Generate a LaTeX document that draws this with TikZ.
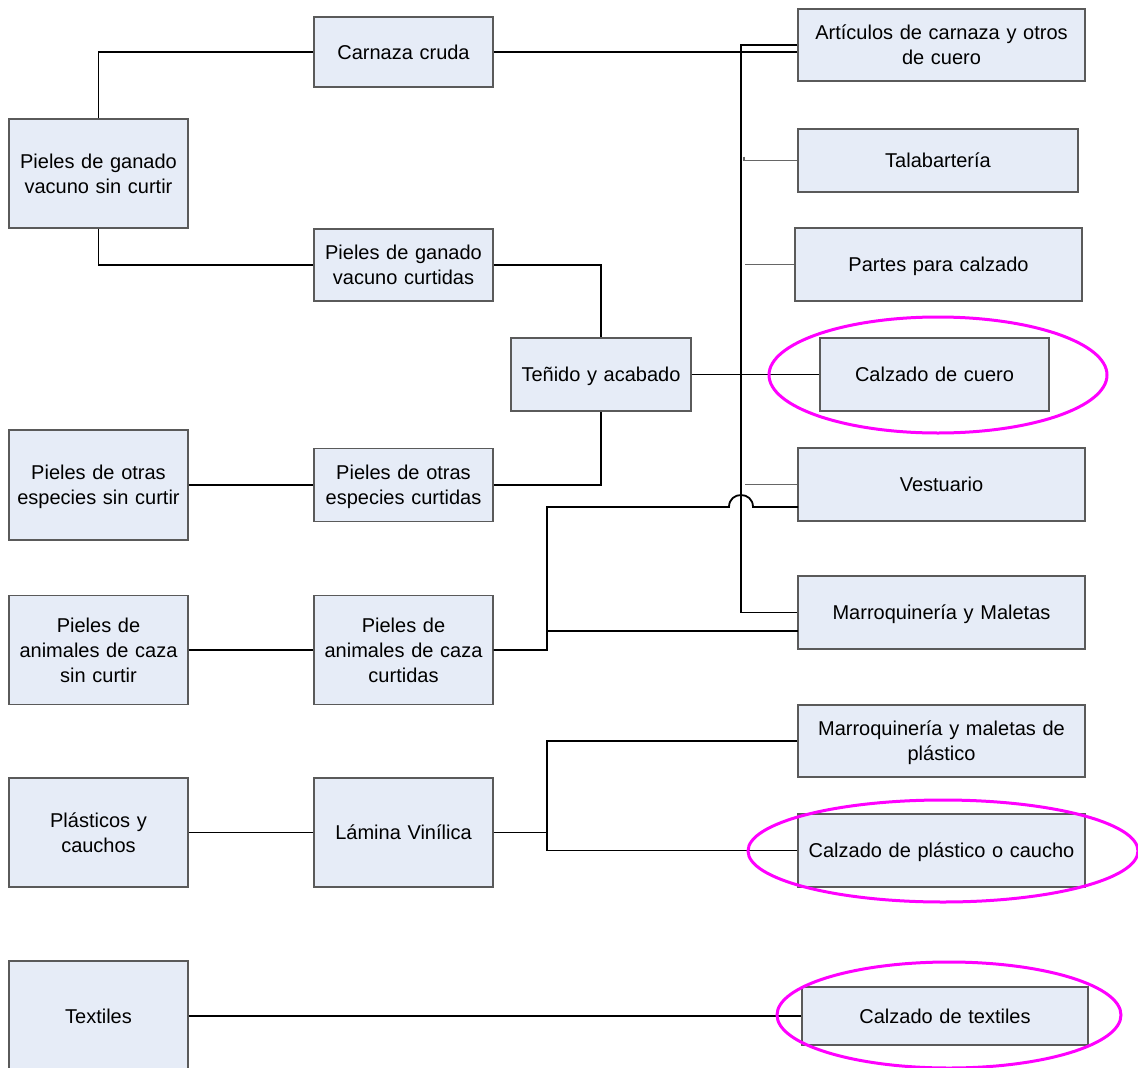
\documentclass[tikz,border=0pt]{standalone}
\usepackage{fontspec}
\setmainfont{Liberation Sans}
\usetikzlibrary{shapes.geometric,calc}
\definecolor{boxfill}{HTML}{E6ECF7}
\definecolor{boxline}{HTML}{5A5A5A}
\definecolor{ring}{HTML}{FF00FF}
\tikzset{
  box/.style={draw=boxline, line width=1.1pt, fill=boxfill, inner sep=0pt, align=center,
    font=\fontsize{20}{25}\selectfont},
  conn/.style={draw=black, line width=1.8pt},
  thinconn/.style={draw=black!60, line width=1.2pt},
  ring/.style={draw=ring, line width=3pt, ellipse, inner sep=0pt}
}
\newcommand\nd[1]{\raisebox{0pt}[\height][0pt]{#1}}
\newcommand\bx[6]{\node[box, minimum width=#4pt, minimum height=#5pt, text width=#4pt-14pt] (#1) at (#2,#3) {#6};}
\begin{document}
\begin{tikzpicture}[x=1pt,y=-1pt]
\useasboundingbox (0,0) rectangle (1138,1068);
% left column
\bx{vsc}{98.5}{173.5}{179}{109}{Pieles de ganado\\vacuno sin curtir}
\bx{osc}{98.5}{485}{179}{110}{Pieles de otras\\\nd{especies sin curtir}}
\bx{acs}{98.5}{650}{179}{109}{Pieles de\\animales de caza\\sin curtir}
\bx{pc}{98.5}{832.5}{179}{109}{Plásticos y\\cauchos}
\bx{tex}{98.5}{1016}{179}{110}{Textiles}
% middle column
\bx{cc}{403.5}{52}{179}{70}{Carnaza cruda}
\bx{vc}{403.5}{265}{179}{72}{Pieles de ganado\\vacuno curtidas}
\bx{oc}{403.5}{485}{179}{73}{Pieles de otras\\\nd{especies curtidas}}
\bx{ac}{403.5}{650}{179}{109}{Pieles de\\animales de caza\\curtidas}
\bx{la}{403.5}{832.5}{179}{109}{Lámina Vinílica}
\bx{ta}{601}{374.5}{180}{73}{\nd{Teñido y acabado}}
% right column
\bx{art}{941.5}{45}{287}{72}{Artículos de carnaza y otros\\de cuero}
\bx{tal}{938}{160.5}{280}{63}{Talabartería}
\bx{ppc}{938.5}{264.5}{287}{73}{\nd{Partes para calzado}}
\bx{cdc}{934.5}{374.5}{229}{73}{Calzado de cuero}
\bx{vest}{941.5}{484.5}{287}{73}{Vestuario}
\bx{mm}{941.5}{612.5}{287}{73}{\nd{Marroquinería y Maletas}}
\bx{mmp}{941.5}{741}{287}{72}{Marroquinería y maletas de\\\nd{plástico}}
\bx{cpc}{941.5}{850.5}{287}{73}{\nd{Calzado de plástico o caucho}}
\bx{ct}{945}{1016}{286}{58}{Calzado de textiles}
% helper coordinates
\coordinate (tk) at (741,0);
\coordinate (tg) at (745,0);
\coordinate (jx) at (547,0);
\coordinate (vin) at (798,507);
\coordinate (min) at (798,631);
\coordinate (ja) at (729,507);
\coordinate (jb) at (753,507);
% connectors
\draw[conn] (vsc.north) |- (cc.west);
\draw[conn] (vsc.south) |- (vc.west);
\draw[conn] (cc.east) -- (art.west |- cc.east);
\draw[conn] (art.west) -- (art.west -| tk) -- (mm.west -| tk) -- (mm.west);
\draw[conn] (vc.east) -| (ta.north);
\draw[conn] (oc.east) -| (ta.south);
\draw[conn] (osc.east) -- (oc.west);
\draw[conn] (acs.east) -- (ac.west);
\draw[conn] (ta.east) -- (cdc.west);
\draw[thinconn] ($(tal.west -| tk)+(3,-4)$) -- ($(tal.west -| tk)+(3,0)$) -- (tal.west);
\draw[thinconn] (ppc.west -| tg) -- (ppc.west);
\draw[thinconn] (vest.west -| tg) -- (vest.west);
\draw[conn] (ac.east) -- (ac.east -| jx) -- (vin -| jx) -- (ja)
  .. controls ($(ja)+(0,-16)$) and ($(jb)+(0,-16)$) .. (jb) -- (vin);
\draw[conn] (min -| jx) -- (min);
\draw[conn] (pc.east) -- (la.west);
\draw[conn] (la.east) -- (la.east -| jx);
\draw[conn] (mmp.west) -| (jx |- cpc.west) -- (cpc.west);
\draw[conn] (tex.east |- ct.west) -- (ct.west);
% highlight rings
\node[ring, minimum width=338pt, minimum height=116pt] (r1) at (938,375) {};
\node[ring, minimum width=390pt, minimum height=102pt] (r2) at (943,851) {};
\node[ring, minimum width=344pt, minimum height=106pt] (r3) at (949,1015) {};
\end{tikzpicture}
\end{document}
